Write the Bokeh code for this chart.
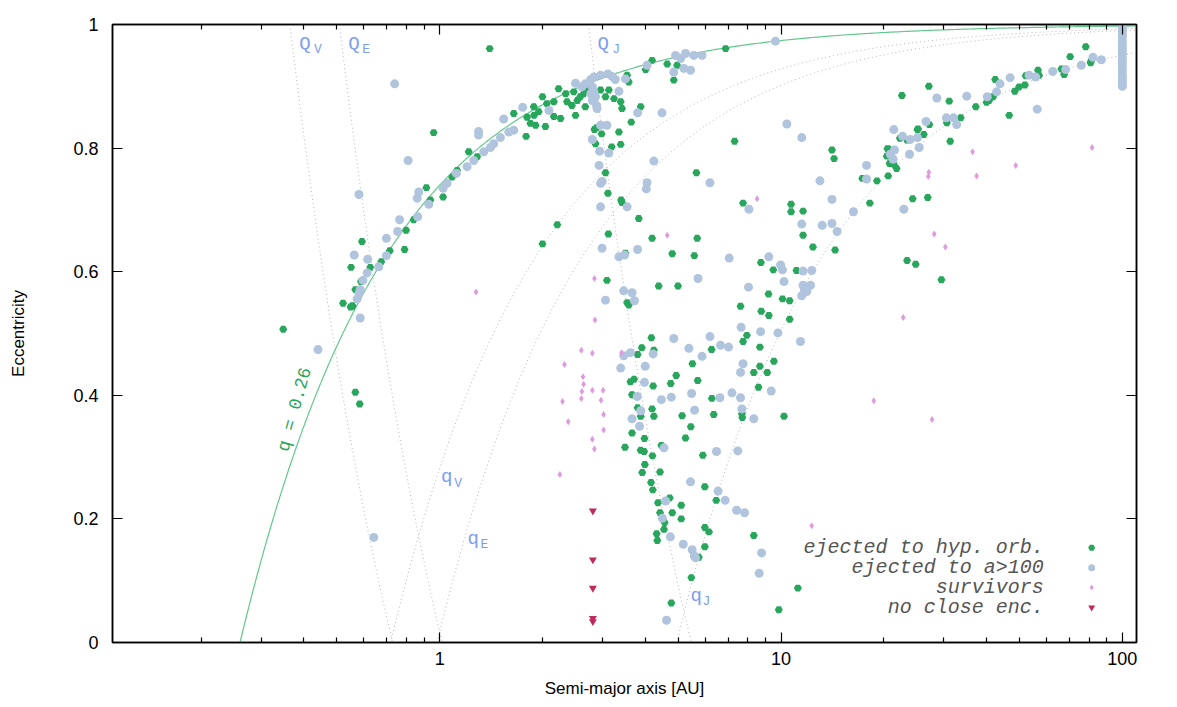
import numpy as np
from bokeh.plotting import figure
from bokeh.models import Range1d, FixedTicker, LogAxis, LinearAxis, PrintfTickFormatter
from bokeh.core.properties import value
from bokeh.embed import file_html
from bokeh.resources import INLINE

# ---------------- data (semi-major axis [AU], eccentricity) ----------------
hyp_a = [0.960, 0.914, 0.789, 0.592, 0.550, 0.521, 0.548,
         1.886, 1.803, 1.844, 1.791, 1.648, 1.593, 1.287, 1.216, 1.124, 1.087, 1.023, 0.939, 0.839,
         0.797, 0.714, 0.674, 0.626, 0.588, 0.566, 0.555, 0.348, 0.566, 0.583, 0.555, 1.401,
         1.89, 1.95, 1.91, 2.00, 2.06, 2.16, 2.16, 2.26, 2.23, 2.34, 2.36, 2.44, 2.47, 2.50, 2.53,
         2.58, 2.64, 2.67, 2.70, 2.96, 3.13, 3.06, 3.24, 3.39, 3.42, 3.54, 3.58, 2.04, 2.84, 2.88,
         2.98, 2.86, 3.19, 3.39, 3.35, 3.64, 3.88, 4.19, 4.01, 4.64, 4.96, 4.85, 3.06, 3.11, 3.40,
         3.42, 3.83, 2.21, 3.12, 5.65, 4.19, 5.68,
         6.88, 7.31, 14.1, 14.3, 17.3, 17.8, 19.1, 20.6, 18.2, 10.7, 10.7, 11.6, 11.6, 12.4, 14.4,
         7.74, 2.00, 3.50, 4.80, 5.57, 3.09, 4.38, 4.99, 8.73, 9.49, 11.1, 9.19, 10.1, 10.6, 3.54,
         3.58, 7.61,
         4.17, 3.91, 4.24, 3.80, 6.26, 5.50, 4.93, 5.70, 4.75, 4.22, 3.62, 3.71, 3.66, 6.27, 3.80,
         4.19, 3.88, 4.24, 5.13, 6.35, 7.68, 7.70, 8.75, 9.21, 7.94, 7.74, 8.67, 8.67, 8.32, 9.11,
         9.53, 8.59,
         3.66, 3.98, 3.49, 3.88, 3.97, 4.46, 4.20, 3.99, 3.92, 4.42, 4.16, 4.21, 4.36, 4.72, 4.42,
         4.80, 5.10, 5.10, 4.56, 4.54, 4.32, 4.34, 5.74, 5.98, 5.98, 6.15, 6.46, 5.98, 5.90, 5.25,
         5.44, 8.32, 5.46, 4.77, 9.85,
         27.1, 22.6, 31.1, 37.2, 30.6, 33.6, 27.2, 25.2, 26.2, 22.3, 31.3, 20.5, 20.7, 20.8, 21.4,
         21.8, 24.3, 26.9, 23.4, 24.8, 29.5, 10.6,
         78.1, 70.3, 81.0, 80.7, 66.3, 67.5, 56.6, 57.0, 52.1, 51.8, 49.8, 48.4, 42.4, 41.8, 40.7,
         40.0, 46.6, 23.4, 25.1, 20.4, 10.2, 11.2]
hyp_e = [0.825, 0.736, 0.636, 0.649, 0.607, 0.549, 0.543,
         0.867, 0.850, 0.840, 0.819, 0.856, 0.825, 0.786, 0.794, 0.764, 0.753, 0.721, 0.716, 0.684,
         0.667, 0.634, 0.616, 0.607, 0.584, 0.571, 0.544, 0.507, 0.405, 0.386, 0.545, 0.961,
         0.853, 0.859, 0.837, 0.883, 0.872, 0.875, 0.851, 0.848, 0.896, 0.888, 0.875, 0.869, 0.891,
         0.853, 0.877, 0.883, 0.888, 0.867, 0.894, 0.894, 0.894, 0.883, 0.880, 0.875, 0.864, 0.918,
         0.907, 0.835, 0.830, 0.833, 0.823, 0.807, 0.802, 0.806, 0.826, 0.842, 0.867, 0.942, 0.927,
         0.936, 0.934, 0.910, 0.760, 0.727, 0.716, 0.712, 0.686, 0.676, 0.661, 0.760, 0.654, 0.654,
         0.961, 0.811, 0.797, 0.783, 0.751, 0.749, 0.747, 0.755, 0.711, 0.709, 0.697, 0.698, 0.659,
         0.640, 0.635, 0.711, 0.645, 0.630, 0.629, 0.626, 0.586, 0.577, 0.577, 0.615, 0.603, 0.602,
         0.564, 0.556, 0.553, 0.550, 0.546, 0.544,
         0.493, 0.477, 0.473, 0.466, 0.474, 0.451, 0.432, 0.424, 0.419, 0.415, 0.422, 0.426, 0.401,
         0.395, 0.380, 0.378, 0.366, 0.366, 0.367, 0.369, 0.370, 0.364, 0.536, 0.529, 0.497, 0.487,
         0.478, 0.447, 0.437, 0.437, 0.455, 0.413,
         0.339, 0.330, 0.316, 0.311, 0.309, 0.319, 0.302, 0.288, 0.275, 0.276, 0.259, 0.247, 0.226,
         0.234, 0.210, 0.210, 0.222, 0.200, 0.194, 0.183, 0.176, 0.165, 0.138, 0.155, 0.186, 0.179,
         0.230, 0.252, 0.303, 0.331, 0.349, 0.173, 0.105, 0.064, 0.053,
         0.900, 0.885, 0.876, 0.867, 0.841, 0.849, 0.838, 0.831, 0.822, 0.816, 0.811, 0.799, 0.798,
         0.775, 0.774, 0.767, 0.718, 0.720, 0.618, 0.612, 0.587, 0.523,
         0.964, 0.948, 0.941, 0.938, 0.928, 0.919, 0.926, 0.918, 0.917, 0.902, 0.899, 0.892, 0.911,
         0.883, 0.877, 0.874, 0.853, 0.813, 0.830, 0.787, 0.366, 0.088]

far_a = [0.738, 0.808, 0.580, 1.30, 1.30, 1.54, 1.75,
         1.648, 1.593, 1.506, 1.439, 1.408, 1.346, 1.258, 1.203, 1.119, 1.051, 1.023, 0.929, 0.859,
         0.868, 0.862, 0.763, 0.753, 0.698, 0.698, 0.663, 0.615, 0.562, 0.613, 0.596, 0.585, 0.580,
         0.573, 0.585, 0.440, 0.641,
         2.50, 2.67, 2.77, 2.83, 2.96, 3.11, 3.20, 3.27, 3.50, 3.35, 2.80, 2.83, 2.77, 2.86, 2.80,
         2.88, 2.89, 2.61, 2.09, 4.05, 4.91, 5.25, 5.55, 5.87, 5.08, 5.19, 5.43, 4.85, 2.96, 3.09,
         2.80, 2.94, 3.13, 2.93, 2.99, 2.96, 2.96, 3.54, 3.80, 4.48, 4.24, 4.05, 4.03, 6.19,
         9.63, 10.4, 11.5, 21.4, 17.8, 13.0, 14.1, 16.3, 14.6, 13.2, 14.1, 11.5, 8.05, 2.99, 3.35,
         3.48, 3.80, 7.05, 5.71, 8.03, 9.21, 9.97, 10.1, 11.6, 12.3, 10.2, 12.2, 11.6, 11.7, 11.9,
         11.5, 3.06, 3.66, 3.46, 3.72,
         4.85, 6.19, 4.22, 3.62, 3.46, 3.39, 4.00, 5.37, 5.87, 6.65, 7.02, 3.98, 3.79, 4.46, 4.77,
         5.47, 6.62, 7.18, 7.61, 3.88, 5.58, 7.68, 8.32, 7.64, 8.71, 9.79, 7.74, 7.61, 9.36,
         3.66, 3.85, 4.54, 4.59, 4.49, 4.74, 5.17, 5.49, 5.57, 5.62, 6.54, 6.86, 5.43, 6.47, 7.47,
         7.41, 7.82, 8.77, 8.63, 4.62,
         28.6, 35.0, 30.5, 32.0, 32.7, 26.6, 22.7, 23.9, 25.1, 25.4, 23.8, 21.5, 20.9, 21.3, 17.8,
         22.9, 11.4,
         82.0, 86.8, 75.8, 68.2, 62.5, 56.3, 53.3, 55.7, 46.9, 43.8, 42.8, 40.2,
         100, 100, 100, 100, 100, 100, 100, 100, 100, 100, 100, 100, 100, 100, 100, 100, 100, 100,
         100, 100]
far_e = [0.904, 0.780, 0.725, 0.827, 0.821, 0.847, 0.866,
         0.829, 0.826, 0.817, 0.807, 0.801, 0.794, 0.780, 0.770, 0.759, 0.743, 0.735, 0.709, 0.719,
         0.729, 0.689, 0.684, 0.665, 0.654, 0.626, 0.608, 0.620, 0.627, 0.598, 0.586, 0.571, 0.565,
         0.556, 0.525, 0.474, 0.170,
         0.905, 0.904, 0.911, 0.915, 0.918, 0.920, 0.916, 0.911, 0.912, 0.892, 0.899, 0.891, 0.888,
         0.883, 0.877, 0.869, 0.864, 0.899, 0.861, 0.934, 0.950, 0.953, 0.950, 0.950, 0.945, 0.929,
         0.926, 0.923, 0.837, 0.837, 0.814, 0.795, 0.792, 0.772, 0.746, 0.743, 0.705, 0.705, 0.857,
         0.857, 0.779, 0.744, 0.734, 0.744,
         0.973, 0.839, 0.817, 0.830, 0.772, 0.747, 0.717, 0.697, 0.665, 0.675, 0.678, 0.677, 0.701,
         0.638, 0.624, 0.627, 0.636, 0.622, 0.589, 0.575, 0.624, 0.611, 0.603, 0.601, 0.602, 0.584,
         0.578, 0.578, 0.572, 0.568, 0.561, 0.554, 0.566, 0.569, 0.553,
         0.492, 0.495, 0.467, 0.469, 0.464, 0.444, 0.447, 0.476, 0.463, 0.481, 0.478, 0.421, 0.398,
         0.393, 0.397, 0.403, 0.396, 0.404, 0.396, 0.375, 0.376, 0.378, 0.362, 0.510, 0.503, 0.501,
         0.451, 0.437, 0.407,
         0.362, 0.350, 0.315, 0.229, 0.201, 0.171, 0.159, 0.150, 0.140, 0.137, 0.245, 0.230, 0.260,
         0.309, 0.310, 0.214, 0.210, 0.145, 0.112, 0.036,
         0.881, 0.884, 0.849, 0.849, 0.838, 0.843, 0.819, 0.814, 0.817, 0.801, 0.790, 0.797, 0.790,
         0.782, 0.750, 0.701, 0.487,
         0.947, 0.943, 0.934, 0.927, 0.924, 0.863, 0.918, 0.915, 0.914, 0.904, 0.891, 0.883,
         0.900, 0.904, 0.909, 0.914, 0.919, 0.925, 0.930, 0.936, 0.941, 0.946, 0.952, 0.957, 0.962,
         0.968, 0.973, 0.979, 0.984, 0.990, 0.995, 1.000]

surv_a = [1.278, 8.51, 4.64, 2.84, 2.85, 2.60, 2.80, 3.41, 2.32, 2.63, 2.64, 2.61, 2.80, 3.01,
          2.60, 2.97, 2.29, 3.02, 2.38, 3.02, 2.80, 2.84, 2.25,
          27.1, 27.0, 36.4, 37.4, 28.1, 30.3, 22.8, 48.7, 81.5, 18.7, 27.7, 12.3]
surv_e = [0.567, 0.718, 0.659, 0.589, 0.522, 0.473, 0.468, 0.469, 0.450, 0.430, 0.418, 0.406,
          0.408, 0.408, 0.395, 0.392, 0.390, 0.369, 0.357, 0.344, 0.329, 0.313, 0.272,
          0.761, 0.754, 0.794, 0.755, 0.661, 0.640, 0.526, 0.772, 0.801, 0.391, 0.361, 0.189]

noenc_a = [2.81, 2.81, 2.81, 2.81, 2.81]
noenc_e = [0.213, 0.134, 0.088, 0.039, 0.034]

# reference curves
q_curve = 0.26
planet_names = ["V", "E", "J"]
planet_peri = [0.718, 0.983, 4.95]
planet_aph = [0.728, 1.017, 5.46]

legend_labels = ["ejected to hyp. orb.", "ejected to a>100", "survivors", "no close enc."]

x_major = [1, 10, 100]
x_minor = [0.2, 0.3, 0.4, 0.5, 0.6, 0.7, 0.8, 0.9, 2, 3, 4, 5, 6, 7, 8, 9,
           20, 30, 40, 50, 60, 70, 80, 90]
y_ticks = [0, 0.2, 0.4, 0.6, 0.8, 1.0]

# ---------------- styling ----------------
GREEN = "#27a65c"
GREEN_LINE = "#64c88e"
BLUE = "#b0c4de"
PINK = "#e09ae0"
RED = "#c02a5a"
LABEL_BLUE = "#7d9df0"
DOT = "#b4b4b4"

p = figure(width=1169, height=700, x_axis_type="log",
           x_range=Range1d(0.11, 110), y_range=Range1d(0, 1),
           output_backend="svg", toolbar_location=None,
           min_border_left=112, min_border_right=33, min_border_top=24, min_border_bottom=56)
p.background_fill_color = "white"
p.border_fill_color = "white"
p.outline_line_color = "black"
p.outline_line_width = 1.5
p.xgrid.visible = False
p.ygrid.visible = False

def style_axis(ax, show_labels):
    ax.axis_line_color = "black"
    ax.axis_line_width = 1.5
    ax.major_tick_in = 10
    ax.major_tick_out = 0
    ax.minor_tick_in = 5
    ax.minor_tick_out = 0
    ax.major_tick_line_color = "black"
    ax.minor_tick_line_color = "black"
    ax.major_tick_line_width = 1.2
    ax.minor_tick_line_width = 1.2
    if not show_labels:
        ax.major_label_text_font_size = "2px"
        ax.major_label_text_alpha = 0
        ax.major_label_standoff = 0

xax = p.xaxis[0]
xax.ticker = FixedTicker(ticks=x_major, minor_ticks=x_minor)
xax.formatter = PrintfTickFormatter(format="%g")
style_axis(xax, True)
xax.major_label_text_font = "Liberation Sans"
xax.major_label_text_font_size = "18px"
xax.major_label_text_color = "black"
xax.major_label_standoff = 9
xax.axis_label = "Semi-major axis [AU]"
xax.axis_label_text_font = "Liberation Sans"
xax.axis_label_text_font_size = "17px"
xax.axis_label_text_font_style = "normal"
xax.axis_label_text_color = "black"
xax.axis_label_standoff = 11

yax = p.yaxis[0]
yax.ticker = FixedTicker(ticks=y_ticks, minor_ticks=[])
yax.formatter = PrintfTickFormatter(format="%g")
style_axis(yax, True)
yax.major_label_text_font = "Liberation Sans"
yax.major_label_text_font_size = "18px"
yax.major_label_text_color = "black"
yax.major_label_standoff = 14
yax.axis_label = "Eccentricity"
yax.axis_label_text_font = "Liberation Sans"
yax.axis_label_text_font_size = "17px"
yax.axis_label_text_font_style = "normal"
yax.axis_label_text_color = "black"
yax.axis_label_standoff = 42

top = LogAxis(ticker=FixedTicker(ticks=x_major, minor_ticks=x_minor),
              formatter=PrintfTickFormatter(format="%g"))
style_axis(top, False)
p.add_layout(top, "above")
right = LinearAxis(ticker=FixedTicker(ticks=y_ticks, minor_ticks=[]),
                   formatter=PrintfTickFormatter(format="%g"))
style_axis(right, False)
p.add_layout(right, "right")

# ---------------- reference curves ----------------
a_grid = np.geomspace(0.1, 120, 600)
for qp in planet_peri:
    aa = a_grid[a_grid >= qp]
    aa = np.concatenate([[qp], aa])
    p.line(aa, 1 - qp / aa, line_color=DOT, line_width=1, line_dash="1 3")
for Qp in planet_aph:
    aa = np.geomspace(Qp / 2.0, Qp, 200)
    p.line(aa, Qp / aa - 1, line_color=DOT, line_width=1, line_dash="1 3")

aq = np.concatenate([[q_curve], a_grid[a_grid > q_curve]])
p.line(aq, 1 - q_curve / aq, line_color=GREEN_LINE, line_width=1.2)

# ---------------- points ----------------
p.scatter(hyp_a, hyp_e, marker="hex", size=8, fill_color=GREEN, line_color=None)
p.scatter(far_a, far_e, marker="circle", size=9, fill_color=BLUE, line_color=None)
p.scatter(surv_a, surv_e, marker="diamond", size=7, fill_color=PINK, line_color=None)
p.scatter(noenc_a, noenc_e, marker="inverted_triangle", size=8, fill_color=RED, line_color=None)

# ---------------- labels for planet curves ----------------
mono = value("Liberation Mono")
big_x = [0.388, 0.540, 2.90, 1.008, 1.206, 5.43]
big_y = [0.9685, 0.9685, 0.9685, 0.267, 0.167, 0.075]
big_t = ["Q", "Q", "Q", "q", "q", "q"]
sub_x = [0.428, 0.593, 3.20, 1.104, 1.316, 5.89]
sub_y = [0.960, 0.960, 0.960, 0.258, 0.158, 0.066]
sub_t = planet_names + planet_names
p.text(big_x, big_y, text=big_t, text_font=mono, text_font_size="19px",
       text_color=LABEL_BLUE, text_align="left", text_baseline="middle")
p.text(sub_x, sub_y, text=sub_t, text_font=mono, text_font_size="13px",
       text_color=LABEL_BLUE, text_align="left", text_baseline="middle")

p.text([0.376], [0.377], text=["q = %.2f" % q_curve], angle=1.30, text_font=mono,
       text_font_size="18px", text_color=GREEN, text_align="center", text_baseline="middle")

# ---------------- legend ----------------
leg_y = [0.1534, 0.1211, 0.0888, 0.0565]
p.text([58.8] * 4, leg_y, text=legend_labels, text_font=mono, text_font_style="italic",
       text_font_size="20px", text_color="#555555", text_align="right", text_baseline="middle")
p.scatter([81.3], [leg_y[0]], marker="hex", size=7, fill_color=GREEN, line_color=None)
p.scatter([81.3], [leg_y[1]], marker="circle", size=7, fill_color=BLUE, line_color=None)
p.scatter([81.3], [leg_y[2]], marker="diamond", size=6, fill_color=PINK, line_color=None)
p.scatter([81.3], [leg_y[3]], marker="inverted_triangle", size=7, fill_color=RED, line_color=None)

open("out.html", "w").write(file_html(p, INLINE))
